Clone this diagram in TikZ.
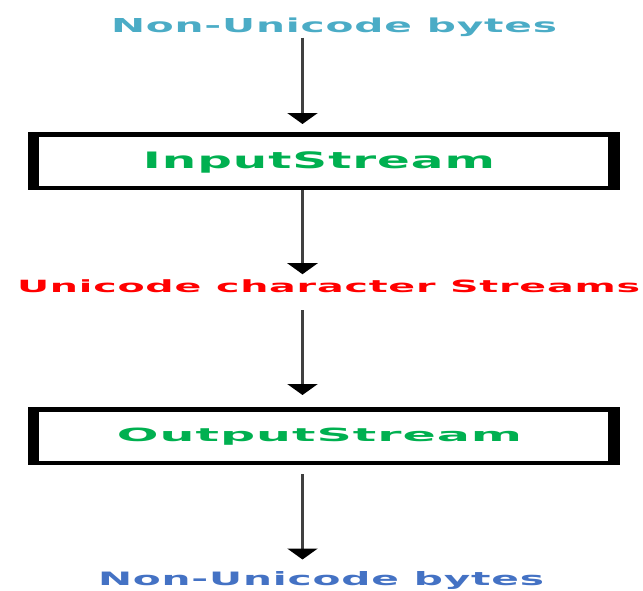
\documentclass[tikz,border=0pt]{standalone}
\usepackage{fontspec}
\usepackage{graphicx}
\usetikzlibrary{arrows.meta}
\newfontfamily\dvb[LetterSpace=2]{DejaVu Sans}
\definecolor{topblue}{RGB}{75,172,198}
\definecolor{botblue}{RGB}{68,114,196}
\definecolor{boxgreen}{RGB}{0,176,80}
\definecolor{shaft}{RGB}{64,64,64}
\tikzset{
  lbl/.style={inner sep=0pt, outer sep=0pt, anchor=base west, font=\dvb\bfseries},
  streambox/.style={draw=black, line width=4.5pt, fill=white, rectangle,
    minimum width=587.5pt, minimum height=53.5pt, inner sep=0pt,
    text depth=0pt, font=\dvb\bfseries, text=boxgreen},
  arr/.style={draw=shaft, line width=3.2pt,
    -{Triangle[width=30pt,length=11pt,color=black]}},
  sidebar/.style={fill=black}
}
\begin{document}
\begin{tikzpicture}[x=1pt,y=-1pt]
\useasboundingbox (0,0) rectangle (643,590);
\node[lbl, text=topblue] (t1) at (111,32) {\resizebox{446pt}{14.6pt}{Non-Unicode bytes}};
\node[streambox, text height=14pt] (b1) at (324,161) {\resizebox{352pt}{16.8pt}{InputStream}\hspace*{10pt}};
\fill[sidebar] (b1.north west) rectangle ([xshift=11pt]b1.south west);
\fill[sidebar] (b1.north east) rectangle ([xshift=-12pt]b1.south east);
\node[lbl, text=red] (t2) at (17,292) {\resizebox{623pt}{12.8pt}{Unicode character Streams}};
\node[streambox, text height=11.4pt] (b2) at (324,436) {\resizebox{405pt}{13.5pt}{OutputStream}\hspace*{9pt}};
\fill[sidebar] (b2.north west) rectangle ([xshift=11pt]b2.south west);
\fill[sidebar] (b2.north east) rectangle ([xshift=-12pt]b2.south east);
\node[lbl, text=botblue] (t3) at (98,585.5) {\resizebox{446pt}{14pt}{Non-Unicode bytes}};
\coordinate (ax) at (302.5,0);
\draw[arr, shorten <=1.5pt, shorten >=8pt] (ax |- t1.south) -- (ax |- b1.north);
\draw[arr, shorten >=5pt] (ax |- b1.south) -- (ax |- t2.north);
\draw[arr, shorten <=18pt, shorten >=12pt] (ax |- t2.south) -- (ax |- b2.north);
\draw[arr, shorten <=9pt, shorten >=12pt] (ax |- b2.south) -- (ax |- t3.north);
\end{tikzpicture}
\end{document}
